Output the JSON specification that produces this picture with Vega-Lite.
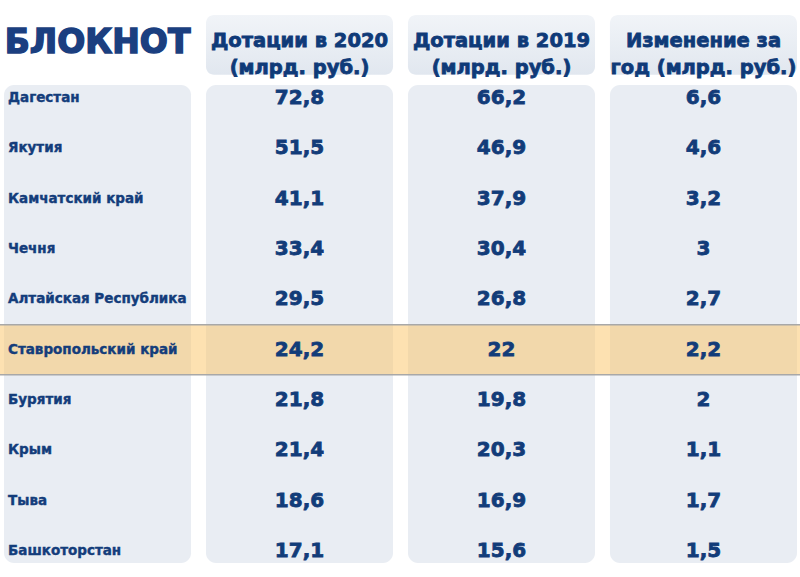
{
  "$schema": "https://vega.github.io/schema/vega-lite/v6.json",
  "autosize": {"type": "none"},
  "width": 800,
  "height": 577,
  "padding": 0,
  "background": "#ffffff",
  "config": {
    "view": {"stroke": null},
    "locale": {"number": {"decimal": ",", "thousands": " ", "grouping": [3], "currency": ["", " ₽"]}}
  },
  "datasets": {
    "rows": [
      {"rank": 1, "region": "Дагестан", "v2020": 72.8, "v2019": 66.2, "change": 6.6},
      {"rank": 2, "region": "Якутия", "v2020": 51.5, "v2019": 46.9, "change": 4.6},
      {"rank": 3, "region": "Камчатский край", "v2020": 41.1, "v2019": 37.9, "change": 3.2},
      {"rank": 4, "region": "Чечня", "v2020": 33.4, "v2019": 30.4, "change": 3},
      {"rank": 5, "region": "Алтайская Республика", "v2020": 29.5, "v2019": 26.8, "change": 2.7},
      {"rank": 6, "region": "Ставропольский край", "v2020": 24.2, "v2019": 22, "change": 2.2},
      {"rank": 7, "region": "Бурятия", "v2020": 21.8, "v2019": 19.8, "change": 2},
      {"rank": 8, "region": "Крым", "v2020": 21.4, "v2019": 20.3, "change": 1.1},
      {"rank": 9, "region": "Тыва", "v2020": 18.6, "v2019": 16.9, "change": 1.7},
      {"rank": 10, "region": "Башкоторстан", "v2020": 17.1, "v2019": 15.6, "change": 1.5}
    ],
    "columns": [
      {"col": "name", "label": ""},
      {"col": "v2020", "label": "Дотации в 2020\n(млрд. руб.)"},
      {"col": "v2019", "label": "Дотации в 2019\n(млрд. руб.)"},
      {"col": "change", "label": "Изменение за\nгод (млрд. руб.)"}
    ]
  },
  "encoding": {
    "x": {
      "field": "col",
      "type": "nominal",
      "axis": null,
      "scale": {"type": "band", "domain": ["name", "v2020", "v2019", "change"], "range": [4, 797], "paddingInner": 0.074, "paddingOuter": 0}
    }
  },
  "layer": [
    {
      "data": {"name": "columns"},
      "mark": {"type": "rect", "fill": "#e9edf3", "cornerRadius": 10},
      "encoding": {
        "y": {"datum": 0.74, "type": "quantitative", "axis": null, "scale": {"domain": [-0.947, 10.517], "reverse": true, "zero": false, "nice": false}},
        "y2": {"datum": 10.24}
      }
    },
    {
      "data": {"name": "columns"},
      "transform": [{"filter": "datum.col !== 'name'"}],
      "mark": {
        "type": "rect",
        "cornerRadius": 8,
        "fill": {"gradient": "linear", "x1": 0, "y1": 0, "x2": 0, "y2": 1, "stops": [{"offset": 0, "color": "#f1f4f8"}, {"offset": 1, "color": "#e1e7ef"}]}
      },
      "encoding": {
        "y": {"datum": -0.65, "type": "quantitative"},
        "y2": {"datum": 0.54}
      }
    },
    {
      "data": {"name": "rows"},
      "transform": [{"filter": "datum.region === 'Ставропольский край'"}],
      "mark": {"type": "rule", "stroke": "#fbc463", "strokeOpacity": 0.5, "strokeWidth": 50, "strokeCap": "butt"},
      "encoding": {"x": null, "y": {"field": "rank", "type": "quantitative"}}
    },
    {
      "data": {"name": "rows"},
      "transform": [{"filter": "datum.region === 'Ставропольский край'"}],
      "mark": {"type": "rule", "stroke": "#a8a8a8", "strokeWidth": 1.5, "yOffset": -25},
      "encoding": {"x": null, "y": {"field": "rank", "type": "quantitative"}}
    },
    {
      "data": {"name": "rows"},
      "transform": [{"filter": "datum.region === 'Ставропольский край'"}],
      "mark": {"type": "rule", "stroke": "#a8a8a8", "strokeWidth": 1.5, "yOffset": 25},
      "encoding": {"x": null, "y": {"field": "rank", "type": "quantitative"}}
    },
    {
      "data": {"name": "rows"},
      "mark": {"type": "text", "align": "left", "baseline": "middle", "dx": 4, "font": "DejaVu Sans", "fontWeight": "bold", "fontSize": 13.5, "fill": "#143d7b", "stroke": "#143d7b", "strokeWidth": 0.4},
      "encoding": {
        "x": {"datum": "name", "bandPosition": 0},
        "y": {"field": "rank", "type": "quantitative"},
        "text": {"field": "region"}
      }
    },
    {
      "data": {"name": "rows"},
      "transform": [{"fold": ["v2020", "v2019", "change"], "as": ["col", "value"]}],
      "mark": {"type": "text", "align": "center", "baseline": "middle", "font": "DejaVu Sans", "fontWeight": "bold", "fontSize": 20, "fill": "#123c79", "stroke": "#123c79", "strokeWidth": 0.8},
      "encoding": {
        "y": {"field": "rank", "type": "quantitative"},
        "text": {"field": "value", "type": "quantitative", "format": ".1~f"}
      }
    },
    {
      "data": {"name": "columns"},
      "transform": [{"filter": "datum.col !== 'name'"}],
      "mark": {"type": "text", "align": "center", "baseline": "middle", "lineBreak": "\n", "lineHeight": 27, "font": "DejaVu Sans", "fontWeight": "bold", "fontSize": 19.5, "fill": "#0f3a78", "stroke": "#0f3a78", "strokeWidth": 0.8},
      "encoding": {
        "y": {"datum": -0.13, "type": "quantitative"},
        "text": {"field": "label"}
      }
    },
    {
      "data": {"values": [{"logo": "БЛОКНОТ"}]},
      "mark": {"type": "text", "align": "center", "baseline": "middle", "font": "DejaVu Sans", "fontWeight": "bold", "fontSize": 33, "fill": "#1b3f80", "stroke": "#1b3f80", "strokeWidth": 1.5},
      "encoding": {
        "x": {"datum": "name"},
        "y": {"datum": -0.1, "type": "quantitative"},
        "text": {"field": "logo"}
      }
    }
  ]
}
